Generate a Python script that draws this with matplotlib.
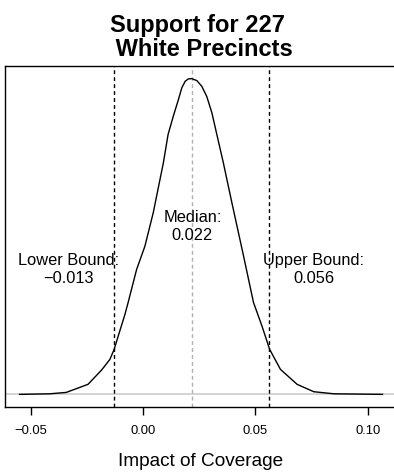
import matplotlib
matplotlib.use("Agg")
import matplotlib.pyplot as plt

plt.rcParams['font.family'] = ['Liberation Sans', 'DejaVu Sans']

# density of the simulated impact estimates
impact = [-0.0549, -0.0415, -0.0341, -0.0244, -0.0184, -0.0147, -0.0128,
          -0.0103, -0.0080, -0.0066, -0.0028, 0.0009, 0.0046, 0.0091,
          0.0112, 0.0135, 0.0158, 0.0173, 0.0188, 0.0202, 0.0217, 0.0240,
          0.0262, 0.0284, 0.0307, 0.0329, 0.0358, 0.0396, 0.0448, 0.0492,
          0.0530, 0.0564, 0.0612, 0.0686, 0.0760, 0.0850, 0.1066]
density = [0.00, 0.04, 0.14, 0.72, 1.74, 2.50, 3.22,
           4.53, 5.72, 6.56, 8.94, 10.61, 13.00, 16.57,
           18.60, 19.90, 21.10, 21.94, 22.41, 22.58, 22.60, 22.46,
           22.05, 21.33, 20.15, 18.60, 16.57, 13.71, 9.89, 6.58,
           4.88, 3.22, 1.79, 0.72, 0.19, 0.04, 0.00]

lower, median, upper = -0.013, 0.022, 0.056
xticks = [-0.05, 0.00, 0.05, 0.10]
xtick_labels = ["\u22120.05", "0.00", "0.05", "0.10"]
title_lines = ["Support for 227 ", " White Precincts"]


def fmt(v):
    return f"{v:.3f}".replace("-", "\u2212")


W, H = 394, 474
fig = plt.figure(figsize=(W / 100, H / 100), dpi=100)

# R-style 4% padding around the data range; the plot box runs past the
# right edge of the canvas, so the axes is made wider and the limit scaled
xr = impact[-1] - impact[0]
x0 = impact[0] - 0.04 * xr
x1 = impact[-1] + 0.04 * xr
box_left, box_right = 5, 397
px_per_unit = (box_right - box_left) / (x1 - x0)
ext_right = 440
ax = fig.add_axes([box_left / W, 67 / H, (ext_right - box_left) / W, 341 / H])
ax.set_xlim(x0, x0 + (ext_right - box_left) / px_per_unit)
ymax = max(density)
ax.set_ylim(-0.04 * ymax, 1.04 * ymax)

ax.axhline(0, color="#d0d0d0", lw=1.3, zorder=1)
ax.plot(impact, density, color="black", lw=1.0, zorder=3)

ax.axvline(lower, color="black", lw=1.0, dashes=(2.8, 2.2), zorder=2)
ax.axvline(upper, color="black", lw=1.0, dashes=(2.8, 2.2), zorder=2)
ax.axvline(median, color="#b0b0b0", lw=1.0, dashes=(2.8, 2.2), zorder=2)

ax.text(median, 12.0, "Median:\n" + fmt(median), ha="center", va="center",
        fontsize=11.8, linespacing=1.25)
ax.text(-0.033, 8.94, "Lower Bound:\n" + fmt(lower), ha="center", va="center",
        fontsize=11.8, linespacing=1.25)
ax.text(0.0761, 8.94, "Upper Bound:\n" + fmt(upper), ha="center", va="center",
        fontsize=11.8, linespacing=1.25)

ax.set_xticks(xticks)
ax.set_xticklabels(xtick_labels, fontsize=9.4)
ax.set_yticks([])
ax.tick_params(axis="x", direction="out", length=5.8, width=1.0, pad=7,
               color="black")
for s in ax.spines.values():
    s.set_linewidth(1.0)
ax.spines["right"].set_visible(False)

ax.set_xlabel("Impact of Coverage", fontsize=13.7)
ax.xaxis.set_label_coords((201 - box_left) / (ext_right - box_left), -0.161)
ax.xaxis.label.set_va("center")

fig.text(201 / W, 1 - 31.7 / H, title_lines[0], ha="center",
         va="baseline", fontsize=17, fontweight="bold")
fig.text(201 / W, 1 - 56 / H, title_lines[1], ha="center",
         va="baseline", fontsize=17, fontweight="bold")

fig.savefig("out.png", dpi=100)
